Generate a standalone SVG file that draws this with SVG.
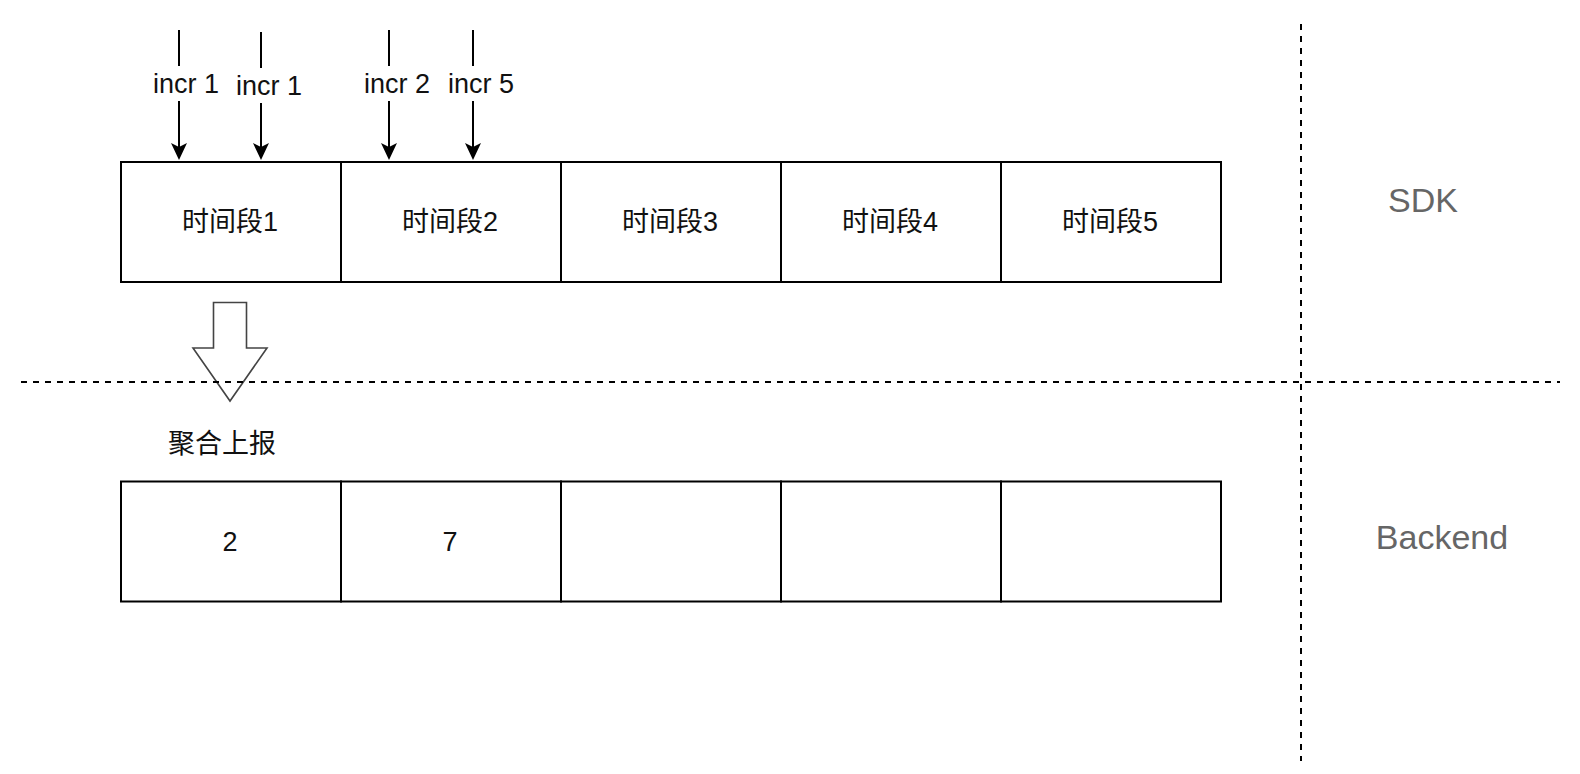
<svg xmlns="http://www.w3.org/2000/svg" width="1580" height="774" viewBox="0 0 1580 774">
  <style>
    .box { fill: #ffffff; stroke: #000000; stroke-width: 2; }
    .lbl { font-family: "Liberation Sans", "Noto Sans CJK SC", sans-serif; font-size: 27px; fill: #111111; text-anchor: middle; }
    .side { font-family: "Liberation Sans", "Noto Sans CJK SC", sans-serif; font-size: 34px; fill: #666666; text-anchor: middle; }
    .edge { stroke: #000000; stroke-width: 2; fill: none; }
    .dash { stroke: #000000; stroke-width: 2; stroke-dasharray: 6 6; fill: none; }
  </style>
  <defs>
    <marker id="arr" markerUnits="userSpaceOnUse" viewBox="0 0 17 16" markerWidth="17" markerHeight="16" refX="9" refY="8" orient="auto">
      <path d="M0,0 L17,8 L0,16 L4,8 Z" fill="#000000"/>
    </marker>
  </defs>
  <rect width="1580" height="774" fill="#ffffff"/>

  <g id="sdk-row">
    <g id="sdk-1"><rect class="box" x="121" y="162" width="220" height="120"/><text class="lbl" x="230" y="231">时间段1</text></g>
    <g id="sdk-2"><rect class="box" x="341" y="162" width="220" height="120"/><text class="lbl" x="450" y="231">时间段2</text></g>
    <g id="sdk-3"><rect class="box" x="561" y="162" width="220" height="120"/><text class="lbl" x="670" y="231">时间段3</text></g>
    <g id="sdk-4"><rect class="box" x="781" y="162" width="220" height="120"/><text class="lbl" x="890" y="231">时间段4</text></g>
    <g id="sdk-5"><rect class="box" x="1001" y="162" width="220" height="120"/><text class="lbl" x="1110" y="231">时间段5</text></g>
  </g>

  <g id="backend-row">
    <g id="be-1"><rect class="box" x="121" y="481.5" width="220" height="120"/><text class="lbl" x="230" y="551">2</text></g>
    <g id="be-2"><rect class="box" x="341" y="481.5" width="220" height="120"/><text class="lbl" x="450" y="551">7</text></g>
    <g id="be-3"><rect class="box" x="561" y="481.5" width="220" height="120"/></g>
    <g id="be-4"><rect class="box" x="781" y="481.5" width="220" height="120"/></g>
    <g id="be-5"><rect class="box" x="1001" y="481.5" width="220" height="120"/></g>
  </g>

  <g id="aggregate-arrow">
    <polygon points="213.5,302.5 246.5,302.5 246.5,348 267,348 230,401 193,348 213.5,348" fill="#ffffff" stroke="#444444" stroke-width="1.6" stroke-linejoin="miter"/>
    <text class="lbl" x="222" y="453" font-size="28">聚合上报</text>
  </g>

  <g id="dividers">
    <line class="dash" x1="21" y1="382" x2="1560" y2="382"/>
    <line class="dash" x1="1301" y1="24" x2="1301" y2="761"/>
  </g>

  <g id="connectors">
    <line class="edge" x1="179" y1="30" x2="179" y2="66"/>
    <line class="edge" x1="179" y1="101" x2="179" y2="152" marker-end="url(#arr)"/>
    <line class="edge" x1="261" y1="32" x2="261" y2="68"/>
    <line class="edge" x1="261" y1="103" x2="261" y2="152" marker-end="url(#arr)"/>
    <line class="edge" x1="389" y1="30" x2="389" y2="66"/>
    <line class="edge" x1="389" y1="101" x2="389" y2="152" marker-end="url(#arr)"/>
    <line class="edge" x1="473" y1="30" x2="473" y2="66"/>
    <line class="edge" x1="473" y1="101" x2="473" y2="152" marker-end="url(#arr)"/>
    <text class="lbl" x="186" y="93">incr 1</text>
    <text class="lbl" x="269" y="95">incr 1</text>
    <text class="lbl" x="397" y="93">incr 2</text>
    <text class="lbl" x="481" y="93">incr 5</text>
  </g>

  <g id="side-labels">
    <text class="side" x="1423" y="212">SDK</text>
    <text class="side" x="1442" y="549">Backend</text>
  </g>
</svg>
